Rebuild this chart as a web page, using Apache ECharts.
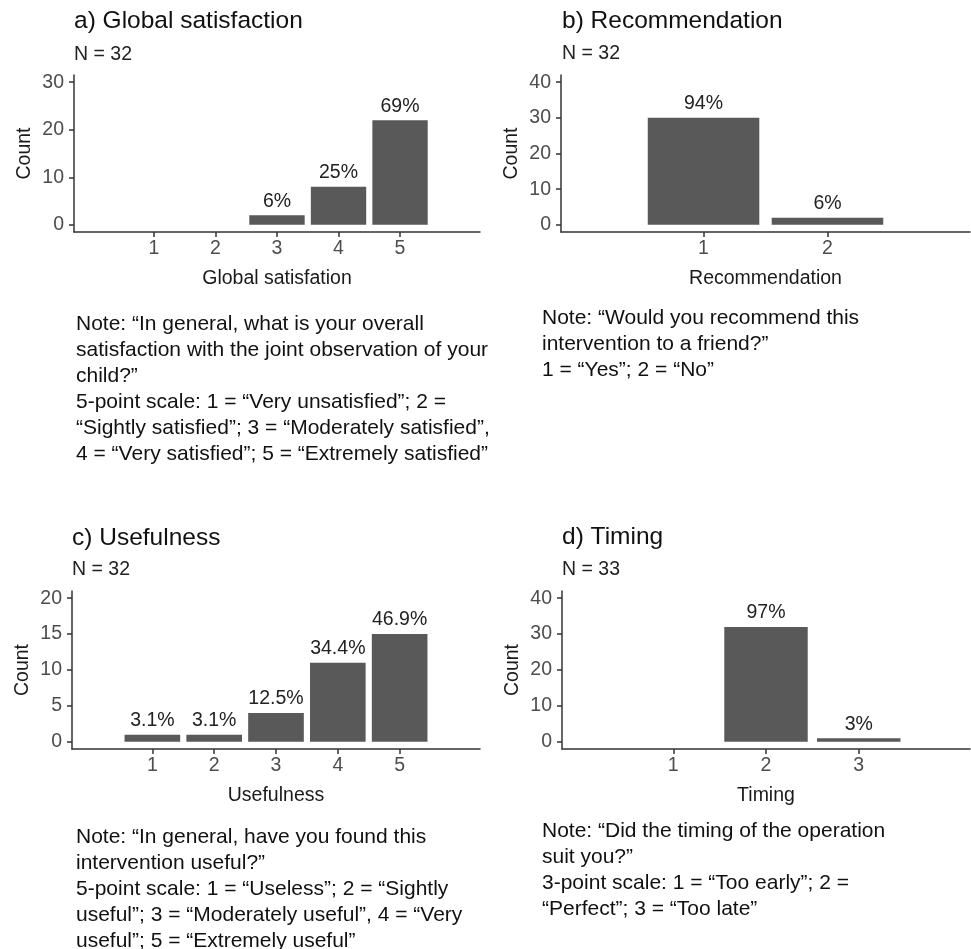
<!DOCTYPE html>
<html>
<head>
<meta charset="utf-8">
<script src="https://cdn.jsdelivr.net/npm/echarts@6/dist/echarts.min.js"></script>
<style>
html,body{margin:0;padding:0;background:#fff;}
#chart{width:971px;height:949px;}
</style>
</head>
<body>
<div id="chart"></div>
<script>
// ---- data ----
const catsA = [1, 2, 3, 4, 5];
const countsA = [0, 0, 2, 8, 22];
const pctA = ['', '', '6%', '25%', '69%'];
const yTicksA = [0, 10, 20, 30];

const catsB = [1, 2];
const countsB = [30, 2];
const pctB = ['94%', '6%'];
const yTicksB = [0, 10, 20, 30, 40];

const catsC = [1, 2, 3, 4, 5];
const countsC = [1, 1, 4, 11, 15];
const pctC = ['3.1%', '3.1%', '12.5%', '34.4%', '46.9%'];
const yTicksC = [0, 5, 10, 15, 20];

const catsD = [1, 2, 3];
const countsD = [0, 32, 1];
const pctD = ['', '97%', '3%'];
const yTicksD = [0, 10, 20, 30, 40];

const titles = ['a) Global satisfaction', 'b) Recommendation', 'c) Usefulness', 'd) Timing'];
const subtitles = ['N = 32', 'N = 32', 'N = 32', 'N = 33'];
const xNames = ['Global satisfation', 'Recommendation', 'Usefulness', 'Timing'];
const notes = [
  ['Note: \u201CIn general, what is your overall',
   'satisfaction with the joint observation of your',
   'child?\u201D',
   '5-point scale: 1 = \u201CVery unsatisfied\u201D; 2 =',
   '\u201CSightly satisfied\u201D; 3 = \u201CModerately satisfied\u201D,',
   '4 = \u201CVery satisfied\u201D; 5 = \u201CExtremely satisfied\u201D'],
  ['Note: \u201CWould you recommend this',
   'intervention to a friend?\u201D',
   '1 = \u201CYes\u201D; 2 = \u201CNo\u201D'],
  ['Note: \u201CIn general, have you found this',
   'intervention useful?\u201D',
   '5-point scale: 1 = \u201CUseless\u201D; 2 = \u201CSightly',
   'useful\u201D; 3 = \u201CModerately useful\u201D, 4 = \u201CVery',
   'useful\u201D; 5 = \u201CExtremely useful\u201D'],
  ['Note: \u201CDid the timing of the operation',
   'suit you?\u201D',
   '3-point scale: 1 = \u201CToo early\u201D; 2 =',
   '\u201CPerfect\u201D; 3 = \u201CToo late\u201D']
];

// ---- layout ----
const FONT = "'Liberation Sans', Arial, sans-serif";
const layout = [
  {left: 74, width: 406, top: 75, height: 157, expand: 1.3, tx: 74, ty: 9, sy: 44.5, nx: 76, ny: 311},
  {left: 561, width: 409, top: 75, height: 157, expand: 1.15, tx: 562, ty: 8.5, sy: 44, nx: 542, ny: 305},
  {left: 72, width: 408, top: 591, height: 158, expand: 1.3, tx: 72, ty: 525.5, sy: 560, nx: 76, ny: 824},
  {left: 562, width: 408, top: 591, height: 158, expand: 1.2, tx: 562, ty: 524.5, sy: 560, nx: 542, ny: 818}
];
const panels = [
  [catsA, countsA, pctA, yTicksA],
  [catsB, countsB, pctB, yTicksB],
  [catsC, countsC, pctC, yTicksC],
  [catsD, countsD, pctD, yTicksD]
];

const axisColor = '#333333';
const grid = [], xAxis = [], yAxis = [], series = [], title = [], graphic = [];

panels.forEach(([cats, counts, pcts, yTicks], i) => {
  const L = layout[i];
  const xmin = cats[0] - L.expand, xmax = cats[cats.length - 1] + L.expand;
  const ytop = yTicks[yTicks.length - 1];
  grid.push({left: L.left, top: L.top, width: L.width, height: L.height, containLabel: false});
  xAxis.push({
    type: 'value', gridIndex: i, min: xmin, max: xmax,
    name: xNames[i], nameLocation: 'middle', nameGap: 37,
    nameTextStyle: {fontSize: 19.5, color: '#1a1a1a', fontFamily: FONT},
    axisLine: {show: true, onZero: false, lineStyle: {color: axisColor, width: 1.5}},
    axisTick: {show: true, length: 5, customValues: cats, lineStyle: {color: axisColor, width: 1.5}},
    axisLabel: {customValues: cats, fontSize: 19.5, color: '#4d4d4d', margin: 7, fontFamily: FONT},
    splitLine: {show: false}
  });
  yAxis.push({
    type: 'value', gridIndex: i, min: -0.05 * ytop, max: 1.05 * ytop,
    name: 'Count', nameLocation: 'middle', nameGap: 39, nameRotate: 90,
    nameTextStyle: {fontSize: 19.5, color: '#1a1a1a', fontFamily: FONT},
    axisLine: {show: true, onZero: false, lineStyle: {color: axisColor, width: 1.5}},
    axisTick: {show: true, length: 5, customValues: yTicks, lineStyle: {color: axisColor, width: 1.5}},
    axisLabel: {customValues: yTicks, fontSize: 19.5, color: '#4d4d4d', margin: 10, fontFamily: FONT},
    splitLine: {show: false}
  });
  const bw = L.width / (xmax - xmin) * 0.9;
  const data = cats.map((c, k) => counts[k] > 0 ? {value: [c, counts[k]], pct: pcts[k]} : null).filter(d => d);
  series.push({
    type: 'bar', xAxisIndex: i, yAxisIndex: i, barWidth: bw,
    data: data,
    itemStyle: {color: '#595959'},
    label: {show: true, position: 'top', distance: 4, fontSize: 19.5, color: '#222', fontFamily: FONT,
            formatter: p => p.data.pct},
    silent: true, animation: false
  });
  title.push({text: titles[i], left: L.tx, top: L.ty, padding: 0,
    textStyle: {fontSize: 24.5, fontWeight: 'normal', color: '#111', fontFamily: FONT}});
  title.push({text: subtitles[i], left: L.tx, top: L.sy, padding: 0,
    textStyle: {fontSize: 19.5, fontWeight: 'normal', color: '#222', fontFamily: FONT}});
  graphic.push({type: 'text', left: L.nx, top: L.ny,
    style: {text: notes[i].join('\n'), font: '21px ' + FONT, lineHeight: 26, fill: '#111'}});
});

const chart = echarts.init(document.getElementById('chart'), null, {renderer: 'canvas'});
chart.setOption({
  animation: false,
  backgroundColor: '#fff',
  title, grid, xAxis, yAxis, series, graphic
});
</script>
</body>
</html>
